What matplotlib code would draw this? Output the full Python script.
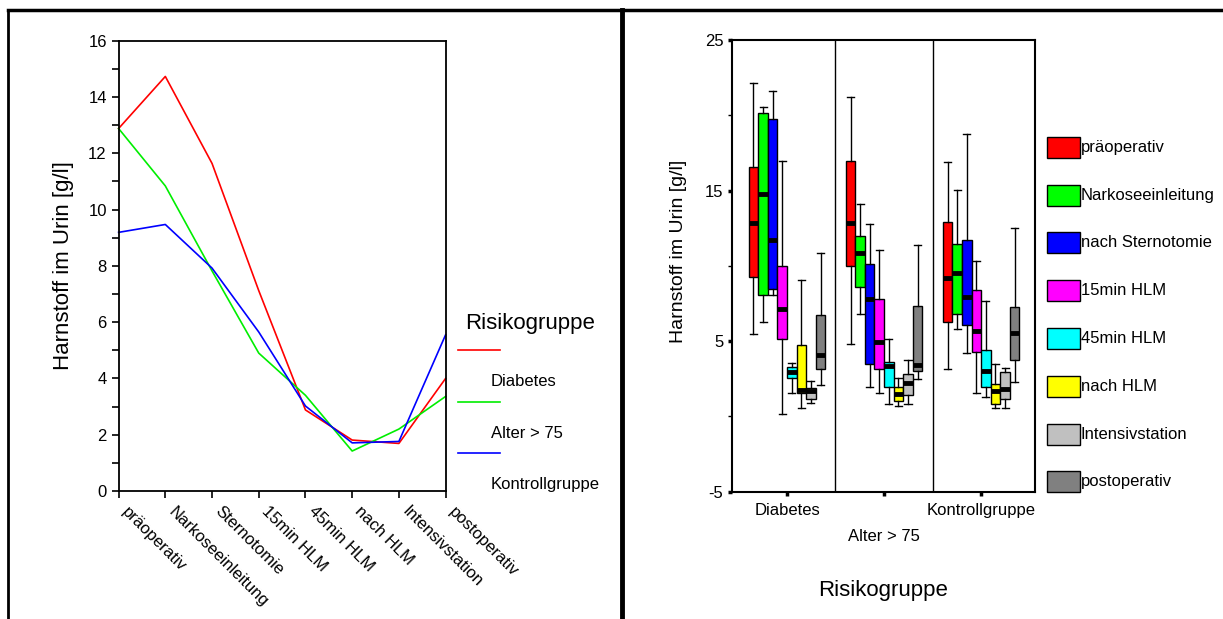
import matplotlib
matplotlib.use("Agg")
import matplotlib.pyplot as plt
from matplotlib.lines import Line2D
from matplotlib.patches import Rectangle
import numpy as np

plt.rcParams['font.family'] = ['Liberation Sans', 'DejaVu Sans']
plt.rcParams['axes.unicode_minus'] = False

# ---------------------------------------------------------------- data
zeitpunkte = ['präoperativ', 'Narkoseeinleitung', 'Sternotomie', '15min HLM',
              '45min HLM', 'nach HLM', 'Intensivstation', 'postoperativ']
gruppen = ['Diabetes', 'Alter > 75', 'Kontrollgruppe']

# Mittelwerte (linkes Diagramm)
mw_diabetes = [12.88, 14.73, 11.64, 7.12, 2.88, 1.81, 1.69, 4.00]
mw_alter = [12.88, 10.84, 7.82, 4.90, 3.40, 1.42, 2.20, 3.36]
mw_kontrolle = [9.19, 9.47, 7.92, 5.65, 3.02, 1.71, 1.76, 5.55]

# Boxplots (rechtes Diagramm): je Gruppe 8 Zeitpunkte
box_legende = ['präoperativ', 'Narkoseeinleitung', 'nach Sternotomie', '15min HLM',
               '45min HLM', 'nach HLM', 'Intensivstation', 'postoperativ']
# whisker unten, Q1, Median, Q3, whisker oben
box_diabetes = [
    [5.45, 9.24, 12.87, 16.57, 22.17],
    [6.30, 8.06, 14.75, 20.13, 20.57],
    [8.06, 8.44, 11.70, 19.73, 21.61],
    [0.18, 5.14, 7.16, 10.01, 16.96],
    [1.58, 2.57, 2.97, 3.30, 3.57],
    [0.58, 1.58, 1.75, 4.72, 9.06],
    [0.90, 1.13, 1.70, 1.87, 2.37],
    [2.06, 3.13, 4.08, 6.74, 10.83],
]
box_alter = [
    [4.83, 9.99, 12.87, 16.96, 21.19],
    [6.82, 8.62, 10.85, 11.98, 14.13],
    [1.98, 3.46, 7.78, 10.10, 12.76],
    [1.53, 3.13, 4.94, 7.78, 11.05],
    [0.80, 1.98, 3.35, 3.64, 5.14],
    [0.71, 1.02, 1.49, 1.93, 2.57],
    [0.80, 1.42, 2.20, 2.82, 3.75],
    [2.48, 3.04, 3.40, 7.33, 11.36],
]
box_kontrolle = [
    [3.13, 6.30, 9.17, 12.93, 16.87],
    [5.78, 6.82, 9.50, 11.47, 15.04],
    [4.19, 6.09, 7.91, 11.70, 18.76],
    [1.53, 4.30, 5.67, 8.42, 10.34],
    [1.31, 1.98, 3.04, 4.41, 7.67],
    [0.58, 0.80, 1.70, 2.15, 3.46],
    [0.58, 1.13, 1.80, 2.93, 3.24],
    [2.31, 3.75, 5.56, 7.27, 12.54],
]

linien_farben = ['#ff0000', '#00ee00', '#0000ff']
box_farben = ['#ff0000', '#00ff00', '#0000ff', '#ff00ff',
              '#00ffff', '#ffff00', '#c0c0c0', '#808080']

W, H = 1223, 619


def fx(px):
    return px / W


def fy(py):
    return 1 - py / H


fig = plt.figure(figsize=(W / 100, H / 100), dpi=100)

# ---------------------------------------------------------------- Rahmen
fig.add_artist(Line2D([fx(8), 1], [fy(10), fy(10)], color='black', lw=2.5))
fig.add_artist(Line2D([fx(8), fx(8)], [fy(10), 0], color='black', lw=2))
fig.add_artist(Line2D([fx(622), fx(622)], [fy(10), 0], color='black', lw=3.5))

# ---------------------------------------------------------------- links
ax1 = fig.add_axes([fx(118.6), fy(491), fx(445.6 - 118.6), (491 - 40.7) / H])
x = np.arange(len(zeitpunkte))
for werte, farbe in zip([mw_diabetes, mw_alter, mw_kontrolle], linien_farben):
    ax1.plot(x, werte, color=farbe, lw=1.2, clip_on=False)
ax1.set_xlim(0, 7)
ax1.set_ylim(0, 16)
ax1.set_yticks(np.arange(0, 17, 2))
ax1.set_yticks(np.arange(1, 17, 2), minor=True)
ax1.set_xticks(x)
ax1.set_xticklabels(zeitpunkte, rotation=-45, ha='left', va='bottom',
                    rotation_mode='anchor', fontsize=12)
ax1.tick_params(axis='y', labelsize=12, length=5, width=1.2)
ax1.tick_params(axis='y', which='minor', length=5, width=1.2)
ax1.tick_params(axis='x', length=5, width=1.2, pad=12)
for s in ax1.spines.values():
    s.set_linewidth(1.3)
ax1.set_ylabel('Harnstoff im Urin [g/l]', fontsize=16, labelpad=10)

# Legende links (Beschriftungen unter den Linien, wie im Original)
fig.text(fx(465), fy(324), 'Risikogruppe', fontsize=16, va='center', ha='left')
for i, (name, farbe) in enumerate(zip(gruppen, linien_farben)):
    yl = 350 + i * 51.5
    fig.add_artist(Line2D([fx(458), fx(500)], [fy(yl), fy(yl)], color=farbe, lw=1.2))
    fig.text(fx(491), fy(yl + 31.5), name, fontsize=12, va='center', ha='left')

# ---------------------------------------------------------------- rechts
ax2 = fig.add_axes([fx(731.7), fy(491.7), fx(1035 - 731.7), (491.7 - 40) / H])
gruppen_pos = 0.547 + 0.96 * np.arange(3)
schritt = 0.0947
for g, boxen in enumerate([box_diabetes, box_alter, box_kontrolle]):
    stats = []
    for werte in boxen:
        lo, q1, med, q3, hi = werte
        stats.append(dict(whislo=lo, q1=q1, med=med, q3=q3, whishi=hi, fliers=[]))
    pos = gruppen_pos[g] + (np.arange(8) - 3.5) * schritt
    bp = ax2.bxp(stats, positions=pos, widths=schritt, patch_artist=True,
                 showfliers=False, manage_ticks=False, capwidths=0.07,
                 medianprops=dict(color='black', lw=3.5, solid_capstyle='butt'),
                 whiskerprops=dict(color='black', lw=1),
                 capprops=dict(color='black', lw=1),
                 boxprops=dict(edgecolor='black', lw=1))
    for patch, farbe in zip(bp['boxes'], box_farben):
        patch.set_facecolor(farbe)
for sep in [1.02, 1.995]:
    ax2.axvline(sep, color='black', lw=1)
ax2.set_xlim(0, 3)
ax2.set_ylim(-5, 25)
ax2.set_yticks([-5, 5, 15, 25])
ax2.set_yticks([0, 10, 20], minor=True)
ax2.tick_params(axis='y', labelsize=12, length=3, width=2.5, pad=3)
ax2.tick_params(axis='y', which='minor', length=3, width=1)
ax2.set_xticks(gruppen_pos)
ax2.set_xticklabels(['Diabetes', '\n' + gruppen[1], 'Kontrollgruppe'], fontsize=12)
ax2.get_xticklabels()[1].set_linespacing(1.9)
ax2.tick_params(axis='x', length=3, width=2.5, pad=5)
for s in ax2.spines.values():
    s.set_linewidth(1.5)
ax2.set_ylabel('Harnstoff im Urin [g/l]', fontsize=14)
ax2.yaxis.set_label_coords(fx(686.7 - 731.7) / fx(1035 - 731.7), (491.7 - 251) / 451.7)
ax2.set_xlabel('Risikogruppe', fontsize=16, labelpad=26)

# Legende rechts
for i, (name, farbe) in enumerate(zip(box_legende, box_farben)):
    yc = 147.3 + i * 47.8
    fig.add_artist(Rectangle((fx(1047), fy(yc + 10.5)), fx(33), 21 / H,
                             facecolor=farbe, edgecolor='black', lw=1))
    fig.text(fx(1081), fy(yc), name, fontsize=12, va='center', ha='left')

fig.savefig('out.png', dpi=100)
